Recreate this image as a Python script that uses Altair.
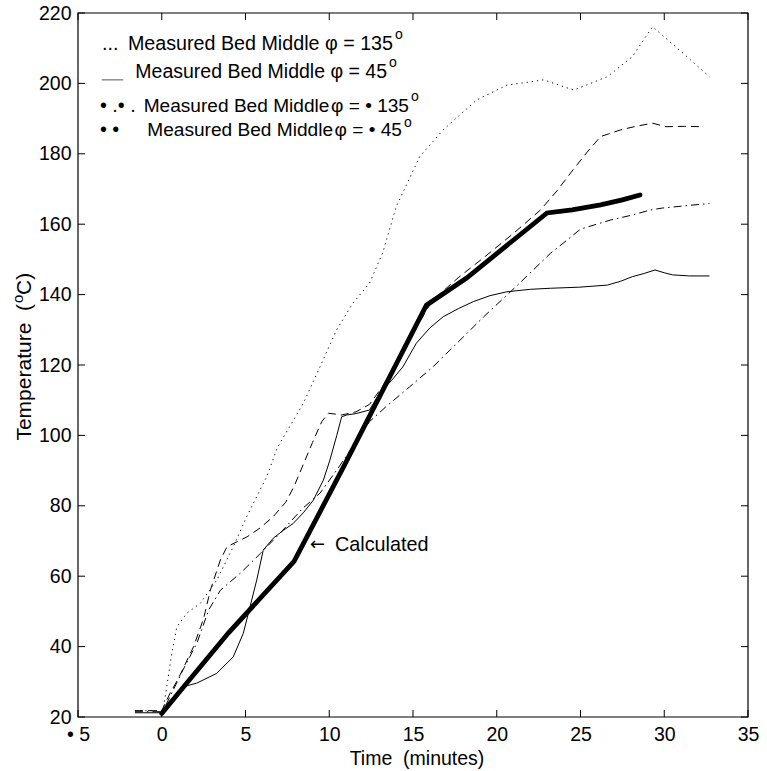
import altair as alt
import pandas as pd

# ---------------- data ----------------
dot_t = [-1.6, 0.0, 0.1, 0.6, 0.9, 1.5, 2.3, 3.3, 4.27, 5.07, 6.27, 6.9, 7.7, 8.45, 9.45, 10.44,
         11.4, 12.4, 13.2, 14.0, 15.4, 16.8, 18.8, 20.6, 22.8, 24.6, 26.6, 28.1, 29.3, 30.9, 32.7]
dot_T = [21.8, 21.8, 22.5, 38, 45.6, 49.5, 52.3, 59, 68.4, 76.9, 88.3, 96.5, 103, 109.1, 119.5, 130,
         137.5, 143.2, 152, 165, 179.2, 186.8, 195.3, 199.5, 201, 198.1, 201.9, 207.6, 216.1, 209.5, 201.9]

sol_t = [-1.6, 0.0, 0.6, 1.29, 2.08, 3.28, 4.27, 4.87, 5.27, 5.67, 6.06, 6.66, 7.25, 7.85, 8.45, 9.05,
         9.65, 10.04, 10.45, 10.74, 11.05, 11.6, 12.4, 13.0, 13.7, 14.4, 15.2, 16.0, 16.8, 17.7, 18.6,
         19.6, 20.6, 22.0, 23.2, 24.9, 26.6, 27.4, 28.1, 28.8, 29.45, 30.0, 30.5, 31.5, 32.7]
sol_T = [21.2, 21.2, 25, 28.6, 29.6, 32.4, 37.1, 43.8, 51.3, 58.9, 67.4, 70.8, 73, 75, 78, 81.6,
         87.3, 93, 100, 105.3, 105.8, 106.2, 107.2, 112, 115.5, 119.5, 126.2, 130.5, 133.7, 136, 138,
         139.7, 140.8, 141.5, 141.8, 142.1, 142.7, 143.8, 145.1, 146, 147, 146.2, 145.6, 145.3, 145.3]

dd_t = [-1.6, 0.0, 0.3, 1.27, 2.1, 2.8, 3.5, 4.7, 5.9, 7.06, 8.4, 9.45, 10.5, 11.5, 12.4, 13.4, 14.8,
        16.2, 17.2, 19.2, 21.2, 23.2, 24.2, 25.0, 26.8, 28.0, 29.15, 29.9, 31.2, 32.7]
dd_T = [21.5, 21.5, 23.9, 33.4, 41, 50.4, 56, 60.9, 66.5, 72.2, 79.2, 83.6, 90.5, 97.5, 103.9, 108.2,
        113.8, 119.5, 124.2, 133.6, 142.5, 151.7, 155.5, 158.6, 161.2, 162.5, 164, 164.6, 165.2, 165.9]

dash_t = [-1.6, 0.0, 0.5, 1.0, 1.9, 2.5, 2.9, 3.5, 3.9, 4.5, 5.1, 5.9, 6.65, 7.4, 7.9, 9.0, 9.55,
          9.95, 10.74, 11.6, 12.4, 13.2, 14.0, 15.0, 15.8, 16.2, 17.7, 19.3, 21.0, 22.6, 23.6, 24.4,
          25.4, 26.2, 27.4, 28.3, 29.3, 30.1, 31.2, 32.3]
dash_T = [21.8, 21.8, 26.8, 31, 40, 48, 56, 64.6, 68.4, 69.8, 71.2, 73.8, 76.9, 81, 85.5, 98, 103.9,
          106.3, 105.8, 106.7, 108.8, 114, 121, 129, 135.5, 138.5, 144.8, 150.8, 157.4, 164, 169.5,
          174.5, 180.5, 184.9, 186.8, 187.8, 188.7, 187.7, 187.8, 187.7]

calc_t = [0.0, 1.3, 4.0, 7.9, 10.9, 15.8, 18.2, 23.0, 24.5, 26.2, 27.5, 28.55]
calc_T = [21, 28.5, 44, 64.2, 91.5, 137, 144.7, 163.2, 164.1, 165.5, 166.9, 168.3]

x_ticks = [-5, 0, 5, 10, 15, 20, 25, 30, 35]
y_ticks = [20, 40, 60, 80, 100, 120, 140, 160, 180, 200, 220]

# legend (inside the axes, in data units); main texts are anchored at their right end
leg_text = ["Measured Bed Middle φ = 135", "Measured Bed Middle φ = 45",
            "Measured Bed Middle\u200aφ = • 135", "Measured Bed Middle\u200aφ = • 45"]
leg_fs = [19.7, 19.5, 19.1, 19.1]
leg_tx = [13.806, 13.448, 14.761, 14.343]
leg_ty = [211.3, 203.2, 193.6, 186.8]
leg_prefix = ["...", "• .• .", "•   •"]
leg_px = [-3.57, -3.69, -3.69]
leg_py = [211.3, 193.6, 186.8]
leg_seg_t = [-3.58, -2.30]
leg_seg_T = [201.0, 201.0]
sup_x = [13.925, 13.567, 14.881, 14.463]
sup_y = [213.75, 205.8, 196.14, 188.75]

ann_arrow_t = [8.85]
ann_text_t = [10.34]
ann_T = [68.9]

# ---------------- chart ----------------
W, H = 670, 704
FONT = "Liberation Sans, Arial, Helvetica, sans-serif"
FS = 19.5
LFS = 19.8

xs = alt.Scale(domain=[-5, 35], nice=False, zero=False)
ys = alt.Scale(domain=[20, 220], nice=False, zero=False)
XAX = alt.Axis(values=x_ticks, domain=False, ticks=False, grid=False,
               labelFont=FONT, labelFontSize=FS, labelColor="black",
               labelPadding=8, labelFlush=False,
               labelExpr="datum.value == -5 ? '• 5' : datum.label")
YAX = alt.Axis(values=y_ticks, domain=False, ticks=False, grid=False,
               labelFont=FONT, labelFontSize=FS, labelColor="black",
               labelPadding=7, labelFlush=False)


def X(f="t:Q"):
    return alt.X(f, scale=xs, axis=XAX, title=None)


def Y(f="T:Q"):
    return alt.Y(f, scale=ys, axis=YAX, title=None)


def series(t, T, **mk):
    df = pd.DataFrame({"t": t, "T": T, "o": range(len(t))})
    return alt.Chart(df).mark_line(color="black", **mk).encode(x=X(), y=Y(), order="o:Q")


dotted = series(dot_t, dot_T, strokeWidth=1, strokeDash=[1.2, 4])
solid = series(sol_t, sol_T, strokeWidth=1)
dashdot = series(dd_t, dd_T, strokeWidth=1, strokeDash=[8, 4, 1.5, 4])
dashed = series(dash_t, dash_T, strokeWidth=1, strokeDash=[8, 5])
calc = series(calc_t, calc_T, strokeWidth=4.8, strokeCap="round", strokeJoin="miter")

# frame and inward ticks on all four sides
xt = pd.DataFrame({"t": x_ticks})
yt = pd.DataFrame({"T": y_ticks})
tick_b = alt.Chart(xt).mark_rule(color="black", strokeWidth=1).encode(
    x=X(), y=alt.value(H), y2=alt.value(H - 7))
tick_t = alt.Chart(xt).mark_rule(color="black", strokeWidth=1).encode(
    x=X(), y=alt.value(0), y2=alt.value(7))
tick_l = alt.Chart(yt).mark_rule(color="black", strokeWidth=1).encode(
    y=Y(), x=alt.value(0), x2=alt.value(7))
tick_r = alt.Chart(yt).mark_rule(color="black", strokeWidth=1).encode(
    y=Y(), x=alt.value(W), x2=alt.value(W - 7))
frame = alt.Chart(pd.DataFrame({"k": [0]})).mark_rect(
    fill=None, stroke="black", strokeWidth=1.2).encode(
    x=alt.value(0), x2=alt.value(W), y=alt.value(0), y2=alt.value(H))

# legend
leg_df = pd.DataFrame({"txt": leg_text, "t": leg_tx, "T": leg_ty, "fs": leg_fs})
leg_main = alt.Chart(leg_df).mark_text(align="right", baseline="middle", font=FONT,
                                       color="black").encode(
    x=X(), y=Y(), text="txt:N", size=alt.Size("fs:Q", scale=None, legend=None))
pre_df = pd.DataFrame({"txt": leg_prefix, "t": leg_px, "T": leg_py})
leg_pre = alt.Chart(pre_df).mark_text(align="left", baseline="middle", font=FONT,
                                      fontSize=LFS, color="black").encode(
    x=X(), y=Y(), text="txt:N")
seg_df = pd.DataFrame({"t": [leg_seg_t[0]], "t2": [leg_seg_t[1]], "T": [leg_seg_T[0]]})
leg_seg = alt.Chart(seg_df).mark_rule(color="#555555", strokeWidth=1).encode(
    x=X(), x2="t2:Q", y=Y())
sup_df = pd.DataFrame({"txt": ["o"] * 4, "t": sup_x, "T": sup_y})
leg_sup = alt.Chart(sup_df).mark_text(align="left", baseline="middle", font=FONT,
                                      fontSize=14, color="black").encode(
    x=X(), y=Y(), text="txt:N")

arr_df = pd.DataFrame({"txt": ["←"], "t": ann_arrow_t, "T": ann_T})
arrow = alt.Chart(arr_df).mark_text(align="left", baseline="middle", font="DejaVu Sans",
                                    fontSize=18, color="black").encode(
    x=X(), y=Y(), text="txt:N")
ann_df = pd.DataFrame({"txt": ["Calculated"], "t": ann_text_t, "T": ann_T})
ann = alt.Chart(ann_df).mark_text(align="left", baseline="middle", font=FONT,
                                  fontSize=LFS, color="black").encode(
    x=X(), y=Y(), text="txt:N")

# axis titles
xtitle = alt.Chart(pd.DataFrame({"txt": ["Time\u00a0\u00a0(minutes)"]})).mark_text(
    align="center", baseline="alphabetic", font=FONT, fontSize=FS, color="black").encode(
    text="txt:N", x=alt.value(339), y=alt.value(752))

YFS = 21
YT_X = -53
YT_P = 291
yt1 = alt.Chart(pd.DataFrame({"txt": ["Temperature\u00a0\u00a0("]})).mark_text(
    align="right", baseline="middle", angle=270, font=FONT, fontSize=YFS, color="black").encode(
    text="txt:N", x=alt.value(YT_X), y=alt.value(YT_P))
yt2 = alt.Chart(pd.DataFrame({"txt": ["o"]})).mark_text(
    align="left", baseline="middle", angle=270, font=FONT, fontSize=15, color="black").encode(
    text="txt:N", x=alt.value(YT_X - 7), y=alt.value(YT_P - 1))
yt3 = alt.Chart(pd.DataFrame({"txt": ["C)"]})).mark_text(
    align="left", baseline="middle", angle=270, font=FONT, fontSize=YFS, color="black").encode(
    text="txt:N", x=alt.value(YT_X), y=alt.value(YT_P - 9))

chart = alt.layer(
    dotted, solid, dashdot, dashed, calc,
    tick_b, tick_t, tick_l, tick_r, frame,
    leg_pre, leg_seg, leg_main, leg_sup, arrow, ann,
    xtitle, yt1, yt2, yt3,
).properties(
    width=W, height=H,
    background="white",
    autosize=alt.AutoSizeParams(type="none"),
    padding={"left": 78, "top": 13, "right": 19, "bottom": 54},
).configure_view(stroke=None)

chart.save("out.html", embed_options={"renderer": "svg", "actions": False})
